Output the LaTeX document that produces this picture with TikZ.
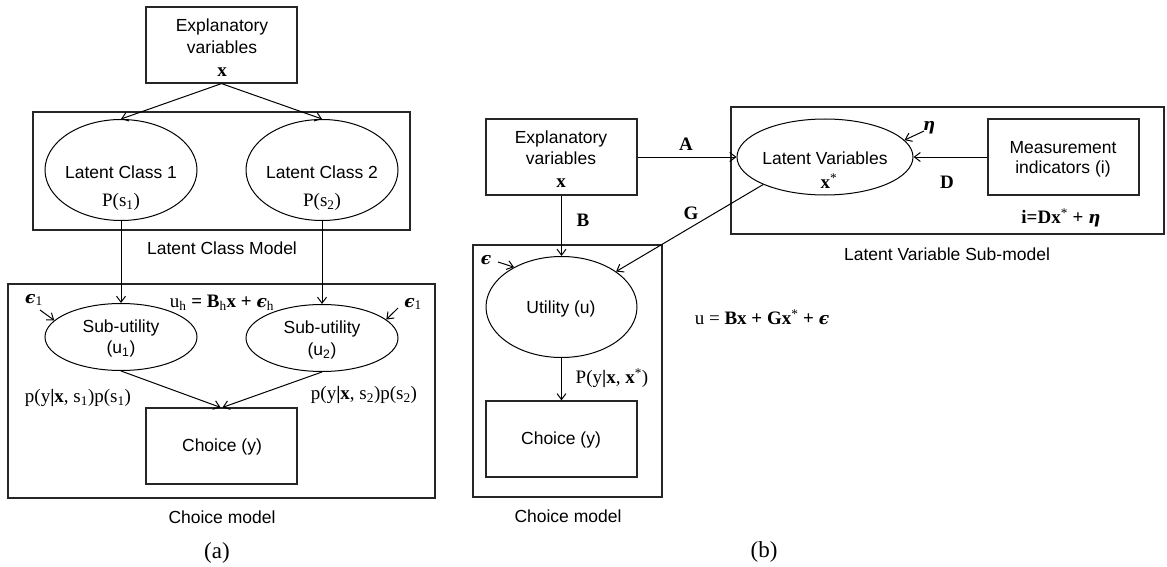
\documentclass[tikz,border=0pt]{standalone}
\usepackage{fontspec}
\setmainfont{Liberation Serif}
\setsansfont{Liberation Sans}
\newfontfamily\gkfont{DejaVu Serif}
\newcommand{\beps}{{\gkfont\bfseries\itshape\fontsize{17}{20}\selectfont ϵ}}
\newcommand{\bfeta}{{\gkfont\bfseries\itshape\fontsize{17}{20}\selectfont η}}
\usetikzlibrary{shapes.geometric,arrows.meta}
\begin{document}
\begin{tikzpicture}[x=1pt,y=-1pt,
  box/.style={draw=black!85,line width=1.2pt,rectangle,inner sep=0pt},
  oval/.style={draw=black,line width=1pt,ellipse,inner sep=0pt},
  lbl/.style={inner sep=0pt,font=\sffamily\fontsize{17.5}{20}\selectfont},
  mlbl/.style={inner sep=0pt,font=\rmfamily\fontsize{19}{22}\selectfont},
  arr/.style={line width=1pt,-{Straight Barb[length=6pt,width=9pt,line width=1pt]}},
  ln/.style={line width=1pt}]
\useasboundingbox (0,0) rectangle (1167,567);
% ---------------- (a)
\node[box,minimum width=151pt,minimum height=76pt] (ex) at (221.5,45) {};
\node[lbl] (ext1) at (222,27) {Explanatory};
\node[lbl] (ext2) at (222,47) {variables};
\node[mlbl] (ext3) at (222,72) {\textbf{x}};
\node[box,minimum width=377pt,minimum height=118pt] (lcm) at (221.5,171) {};
\node[oval,minimum width=152pt,minimum height=101pt] (lc1) at (121,170) {};
\node[oval,minimum width=152pt,minimum height=101pt] (lc2) at (322,170) {};
\node[lbl] (lc1t) at (121,172) {Latent Class 1};
\node[lbl] (lc2t) at (322,172) {Latent Class 2};
\node[mlbl] (lc1p) at (121,202) {P(s\textsubscript{1})};
\node[mlbl] (lc2p) at (322,202) {P(s\textsubscript{2})};
\node[lbl] (lcml) at (222,248) {Latent Class Model};
\node[box,minimum width=427pt,minimum height=214pt] (cm) at (221.5,391) {};
\node[oval,minimum width=152pt,minimum height=67pt] (su1) at (121,337) {};
\node[oval,minimum width=152pt,minimum height=67pt] (su2) at (322,338) {};
\node[lbl] (su1t) at (121,328) {Sub-utility};
\node[lbl] (su1u) at (121,349) {(u\textsubscript{1})};
\node[lbl] (su2t) at (322,329) {Sub-utility};
\node[lbl] (su2u) at (322,351) {(u\textsubscript{2})};
\node[box,minimum width=151pt,minimum height=76pt] (ch) at (221.5,446) {};
\node[lbl] (cht) at (222,447) {Choice (y)};
\node[mlbl] (e1l) at (34,300) {\beps\textsubscript{1}};
\node[mlbl] (e1r) at (413,304) {\beps\textsubscript{1}};
\node[mlbl] (uh) at (222,303) {u\textsubscript{h} \textbf{=} \textbf{B}\textsubscript{h}\textbf{x + }\beps\textsubscript{h}};
\node[mlbl] (p1) at (78,398) {p(y\textbf{|x}, s\textsubscript{1})p(s\textsubscript{1})};
\node[mlbl] (p2) at (364,395) {p(y\textbf{|x}, s\textsubscript{2})p(s\textsubscript{2})};
\node[lbl] (cml) at (222,517) {Choice model};
\node[mlbl,font=\rmfamily\fontsize{23}{26}\selectfont] (la) at (217,553) {(a)};
\coordinate (e1ls) at (40,310);
\coordinate (e1rs) at (398,308);
\draw[arr] (ex.south) -- (lc1.north);
\draw[arr] (ex.south) -- (lc2.north);
\draw[arr] (lc1.south) -- (su1.north);
\draw[arr] (lc2.south) -- (su2.north);
\draw[arr] (su1.south) -- ([xshift=-1pt]ch.north);
\draw[arr] (su2.south) -- ([xshift=1pt]ch.north);
\draw[arr] (e1ls) -- (su1.166);
\draw[arr] (e1rs) -- (su2.16);
% ---------------- (b)
\node[box,minimum width=151pt,minimum height=76pt] (exb) at (561.5,157) {};
\node[lbl] (exbt1) at (561,139) {Explanatory};
\node[lbl] (exbt2) at (561,158) {variables};
\node[mlbl] (exbt3) at (561,183) {\textbf{x}};
\node[box,minimum width=433pt,minimum height=127pt] (lvs) at (947.5,170.5) {};
\node[oval,minimum width=176pt,minimum height=76pt] (lv) at (825,157) {};
\node[lbl] (lvt) at (825,158) {Latent Variables};
\node[mlbl] (lvx) at (829,181) {\textbf{x}\textsuperscript{*}};
\node[box,minimum width=151pt,minimum height=76pt] (mi) at (1063.5,157) {};
\node[lbl] (mit1) at (1063,148) {Measurement};
\node[lbl] (mit2) at (1063,169) {indicators (i)};
\node[mlbl] (eta) at (929,128) {\bfeta};
\node[mlbl] (dl) at (947,182) {\textbf{D}};
\node[mlbl] (al) at (686,144) {\textbf{A}};
\node[mlbl] (bl) at (583,220) {\textbf{B}};
\node[mlbl] (gl) at (691,213) {\textbf{G}};
\node[mlbl] (ieq) at (1061,218) {\textbf{i=Dx}\textsuperscript{*} \textbf{+} \bfeta};
\node[lbl] (lvsl) at (947,254) {Latent Variable Sub-model};
\node[box,minimum width=189pt,minimum height=252pt] (cmb) at (567.5,371) {};
\node[oval,minimum width=151pt,minimum height=101pt] (ut) at (561.5,307) {};
\node[lbl] (utt) at (561,309) {Utility (u)};
\node[mlbl] (epsb) at (486,260) {\beps};
\node[box,minimum width=151pt,minimum height=76pt] (cb) at (561.5,439) {};
\node[lbl] (cbt) at (561,440) {Choice (y)};
\node[mlbl] (pl) at (612,378) {P(y\textbf{|x}, \textbf{x}\textsuperscript{*})};
\node[mlbl] (ueq) at (762,317) {u = \textbf{Bx + Gx}\textsuperscript{*} \textbf{+} \beps};
\node[lbl] (cmbl) at (568,516) {Choice model};
\node[mlbl,font=\rmfamily\fontsize{23}{26}\selectfont] (lb) at (764,552) {(b)};
\coordinate (etas) at (924,131);
\coordinate (epsbs) at (498,262);
\draw[arr] (exb.east) -- (lv.west);
\draw[arr] (exb.south) -- (ut.north);
\draw[arr] (lv.204) -- (ut.33);
\draw[arr] (mi.west) -- (lv.east);
\draw[arr] (ut.south) -- (cb.north);
\draw[arr] (etas) -- (lv.12);
\draw[arr] (epsbs) -- (ut.140);
\end{tikzpicture}
\end{document}
